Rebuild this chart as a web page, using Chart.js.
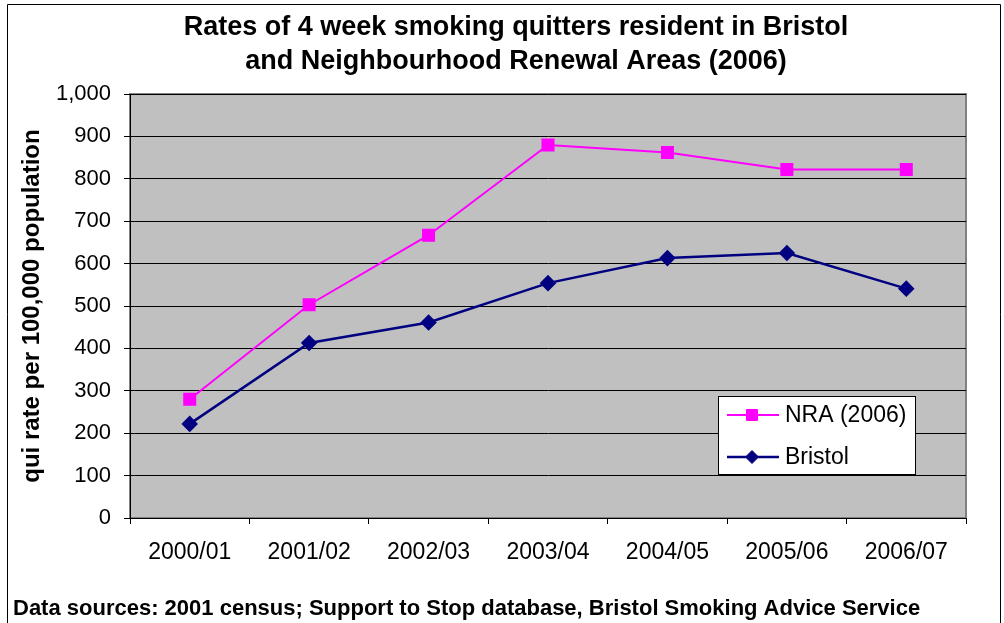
<!DOCTYPE html>
<html>
<head>
<meta charset="utf-8">
<script src="https://cdn.jsdelivr.net/npm/chart.js@4.4.1/dist/chart.umd.min.js"></script>
<style>
    html, body { margin: 0; padding: 0; background: #fff; }
    #wrap { width: 1004px; height: 623px; }
</style>
</head>
<body>
<div id="wrap"><canvas id="quitChart" width="1004" height="623"></canvas></div>
<script>
// Données
const years = ['2000/01', '2001/02', '2002/03', '2003/04', '2004/05', '2005/06', '2006/07'];
const nraRates = [280, 503, 667, 880, 862, 822, 822];
const bristolRates = [222, 413, 461, 554, 613, 625, 541];
const yMin = 0, yMax = 1000, yStep = 100;

const titleLines = ['Rates of 4 week smoking quitters resident in Bristol', 'and Neighbourhood Renewal Areas (2006)'];
const yTitle = 'qui rate per 100,000 population';
const footnote = 'Data sources: 2001 census; Support to Stop database, Bristol Smoking Advice Service';

const FONT = 'Liberation Sans, Arial, sans-serif';

// fond gris de la zone de tracé + bordure du cadre
const frame = {
    id: 'frame',
    beforeDraw(chart) {
        const { ctx, chartArea: a, width, height } = chart;
        ctx.save();
        ctx.fillStyle = '#fff';
        ctx.fillRect(0, 0, width, height);
        ctx.fillStyle = '#c0c0c0';
        ctx.fillRect(a.left, a.top, a.right - a.left, a.bottom - a.top);
        ctx.strokeStyle = '#808080';
        ctx.lineWidth = 2;
        ctx.strokeRect(a.left, a.top, a.right - a.left, a.bottom - a.top);
        // cadre extérieur
        ctx.strokeStyle = '#000';
        ctx.lineWidth = 1;
        ctx.beginPath();
        ctx.moveTo(7.5, height + 2);
        ctx.lineTo(7.5, 4.5);
        ctx.lineTo(1000.5, 4.5);
        ctx.lineTo(1000.5, height + 2);
        ctx.stroke();
        ctx.restore();
    },
    afterDraw(chart) {
        const ctx = chart.ctx;
        ctx.save();
        // légende dans la zone de tracé
        const lx = 718, ly = 396, lw = 197, lh = 78;
        ctx.fillStyle = '#fff';
        ctx.fillRect(lx, ly, lw, lh);
        ctx.strokeStyle = '#000';
        ctx.lineWidth = 1;
        ctx.strokeRect(lx + 0.5, ly + 0.5, lw, lh);
        chart.data.datasets.forEach((ds, i) => {
            const cy = ly + 19 + i * 42;
            ctx.strokeStyle = ds.borderColor;
            ctx.lineWidth = ds.borderWidth;
            ctx.beginPath();
            ctx.moveTo(727, cy);
            ctx.lineTo(779, cy);
            ctx.stroke();
            ctx.fillStyle = ds.pointBackgroundColor;
            ctx.strokeStyle = ds.pointBorderColor;
            ctx.lineWidth = 1;
            Chart.helpers.drawPoint(ctx, { pointStyle: ds.pointStyle, radius: ds.pointRadius, borderWidth: 1 }, 752, cy);
            ctx.fillStyle = '#000';
            ctx.font = '23px ' + FONT;
            ctx.textBaseline = 'middle';
            ctx.fillText(ds.label, 785, cy + 1);
        });
        // source
        ctx.fillStyle = '#000';
        ctx.font = 'bold 22px ' + FONT;
        ctx.textBaseline = 'middle';
        ctx.fillText(footnote, 13, 609);
        ctx.restore();
    }
};

const ctx = document.getElementById('quitChart').getContext('2d');
new Chart(ctx, {
    type: 'line',
    data: {
        labels: years,
        datasets: [{
            label: 'NRA (2006)',
            data: nraRates,
            borderColor: '#ff00ff',
            borderWidth: 2,
            pointStyle: 'rect',
            pointRadius: 7.8,
            pointBackgroundColor: '#ff00ff',
            pointBorderColor: '#ff00ff',
            tension: 0
        }, {
            label: 'Bristol',
            data: bristolRates,
            borderColor: '#000080',
            borderWidth: 2.5,
            pointStyle: 'rectRot',
            pointRadius: 6.5,
            pointBackgroundColor: '#000080',
            pointBorderColor: '#000080',
            tension: 0
        }]
    },
    options: {
        responsive: false,
        animation: false,
        layout: { padding: { left: 28, right: 0, top: 0, bottom: 0 } },
        plugins: {
            legend: { display: false },
            tooltip: { enabled: false },
            title: {
                display: true,
                text: titleLines,
                color: '#000',
                font: { family: FONT, size: 27, weight: 'bold', lineHeight: 1.26 },
                padding: { top: 11, bottom: 15 }
            }
        },
        scales: {
            x: {
                offset: true,
                grid: { offset: true, drawOnChartArea: false, color: '#000', tickLength: 6 },
                border: { color: '#000', width: 1 },
                ticks: { color: '#000', font: { family: FONT, size: 23 }, padding: 15, maxRotation: 0 },
                afterFit(scale) { scale.height = 105; }
            },
            y: {
                min: yMin,
                max: yMax,
                grid: { color: '#000', tickLength: 6 },
                border: { color: '#000', width: 1 },
                ticks: {
                    stepSize: yStep,
                    color: '#000',
                    padding: 13,
                    font: { family: FONT, size: 22 },
                    callback: v => v.toLocaleString('en-US')
                },
                title: {
                    display: true,
                    text: yTitle,
                    color: '#000',
                    font: { family: FONT, size: 24, weight: 'bold' },
                    padding: { top: -10, bottom: 0 }
                },
                afterFit(scale) { scale.width = 102; }
            },
            spacer: {
                position: 'right',
                grid: { display: false },
                border: { display: false },
                ticks: { display: false },
                afterFit(scale) { scale.width = 38; }
            }
        }
    },
    plugins: [frame]
});
</script>
</body>
</html>
